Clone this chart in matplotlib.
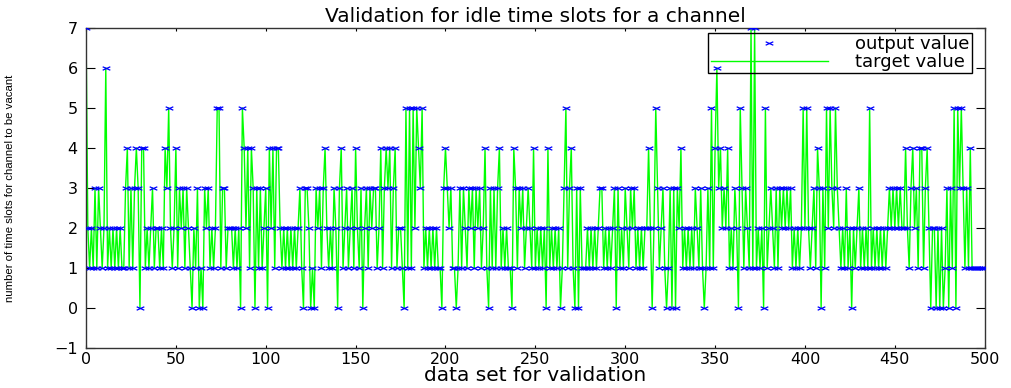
#!/usr/bin/env python
# coding: utf-8

# Validation plot: output vs target idle time slots for a channel

import matplotlib
matplotlib.use("Agg")
import matplotlib.pyplot as plt
from matplotlib.path import Path

# values, index 0..500
target = [7, 2, 1, 2, 1, 3, 1, 3, 2, 1, 2, 6, 1, 2, 1, 2, 1, 2, 1, 2,
          1, 1, 3, 4, 1, 3, 1, 3, 4, 3, 0, 4, 4, 1, 2, 1, 2, 3, 1, 2,
          2, 1, 2, 1, 4, 3, 5, 2, 1, 2, 4, 1, 3, 2, 3, 1, 3, 2, 1, 0,
          2, 1, 3, 0, 1, 0, 3, 2, 3, 1, 2, 1, 2, 5, 5, 1, 3, 3, 1, 2,
          2, 2, 1, 2, 1, 2, 0, 5, 4, 2, 4, 1, 4, 3, 0, 3, 1, 3, 1, 2,
          3, 0, 4, 2, 4, 1, 4, 4, 2, 1, 2, 1, 2, 1, 2, 1, 2, 1, 2, 3,
          1, 0, 3, 3, 2, 0, 1, 0, 3, 2, 3, 1, 3, 4, 2, 1, 2, 1, 3, 2,
          0, 3, 4, 1, 2, 3, 1, 2, 3, 1, 4, 2, 1, 3, 0, 2, 3, 1, 3, 2,
          3, 3, 1, 2, 4, 1, 3, 4, 3, 4, 1, 3, 4, 1, 2, 2, 1, 0, 5, 1,
          5, 1, 5, 2, 5, 4, 3, 5, 1, 2, 1, 2, 1, 2, 1, 2, 1, 1, 0, 3,
          4, 3, 2, 3, 1, 1, 0, 1, 3, 1, 3, 2, 1, 3, 2, 3, 1, 3, 2, 3,
          1, 2, 4, 1, 0, 3, 1, 3, 1, 3, 4, 1, 2, 1, 2, 1, 1, 0, 4, 3,
          1, 3, 2, 3, 1, 2, 3, 2, 1, 4, 1, 2, 1, 2, 1, 2, 0, 4, 1, 2,
          1, 2, 1, 2, 0, 1, 3, 5, 1, 3, 4, 1, 0, 3, 0, 3, 1, 1, 1, 2,
          1, 2, 1, 2, 1, 2, 3, 3, 1, 2, 1, 2, 1, 2, 3, 0, 3, 1, 2, 1,
          3, 2, 1, 3, 2, 3, 1, 2, 1, 2, 1, 2, 2, 4, 2, 0, 2, 5, 3, 1,
          2, 3, 1, 0, 1, 3, 0, 3, 0, 3, 2, 4, 1, 2, 1, 2, 1, 2, 1, 3,
          2, 1, 3, 1, 0, 1, 3, 1, 5, 1, 4, 6, 3, 4, 2, 3, 2, 4, 1, 2,
          1, 3, 2, 0, 5, 3, 1, 3, 2, 1, 7, 1, 7, 1, 2, 1, 2, 0, 5, 1,
          2, 3, 2, 1, 3, 1, 3, 2, 3, 2, 3, 2, 3, 1, 2, 1, 2, 1, 2, 5,
          2, 5, 2, 1, 2, 3, 1, 4, 3, 0, 3, 1, 5, 2, 5, 3, 2, 5, 3, 2,
          1, 2, 1, 3, 1, 2, 0, 2, 1, 2, 3, 1, 2, 1, 2, 1, 5, 1, 2, 1,
          2, 1, 2, 1, 2, 1, 2, 3, 2, 3, 2, 3, 2, 3, 2, 2, 4, 2, 1, 3,
          4, 2, 3, 1, 4, 4, 1, 3, 4, 2, 0, 2, 2, 0, 2, 0, 2, 0, 1, 3,
          0, 3, 1, 5, 0, 5, 3, 5, 3, 1, 3, 1, 4, 1, 1, 1, 1, 1, 1, 1,
          1]
output = list(target)
index = list(range(len(target)))

x_ticks = list(range(0, 501, 50))
y_ticks = list(range(-1, 8))

# wide, flat 'x' like the squashed MATLAB marker
cross = Path([(-1, -0.45), (1, 0.45), (-1, 0.45), (1, -0.45)],
             [Path.MOVETO, Path.LINETO, Path.MOVETO, Path.LINETO])

plt.rcParams['font.family'] = ['DejaVu Sans']

fig = plt.figure(figsize=(10.12, 3.88), dpi=100)
ax = fig.add_axes([0.085, 0.103, 0.888, 0.825])

ax.plot(index, output, linestyle='none', marker=cross, markersize=5.5,
        markeredgecolor='#0000ff', markeredgewidth=0.9, label='output value', zorder=3)
ax.plot(index, target, color='#00ff00', linewidth=1.0, label='target value', zorder=2)

ax.set_xlim(0, 500)
ax.set_ylim(-1, 7)
ax.set_xticks(x_ticks)
ax.set_yticks(y_ticks)
ax.tick_params(axis='both', direction='in', top=True, right=True, labelsize=11.5)
ax.tick_params(axis='x', length=2.5, pad=3)
ax.tick_params(axis='y', length=6.5, pad=6)
for s in ax.spines.values():
    s.set_linewidth(1.0)
    s.set_color('#333333')

ax.set_title("Validation for idle time slots for a channel", fontsize=14.5, pad=4)
ax.set_xlabel("data set for validation", fontsize=14.5, labelpad=-1)
ax.set_ylabel("number of time slots for channel to be vacant",
              family=['Liberation Sans', 'DejaVu Sans'], fontsize=8.2, labelpad=28)

leg = ax.legend(loc='upper right', bbox_to_anchor=(0.9855, 0.984), fontsize=13,
                frameon=True, fancybox=False, borderaxespad=0,
                handlelength=6.5, handletextpad=1.5, borderpad=0.12, labelspacing=0.0)
frame = leg.get_frame()
frame.set_alpha(None)
frame.set_facecolor('none')
frame.set_edgecolor('black')
frame.set_linewidth(1.0)

fig.savefig("out.png", dpi=100, facecolor='white')
print('Wrote out.png')
